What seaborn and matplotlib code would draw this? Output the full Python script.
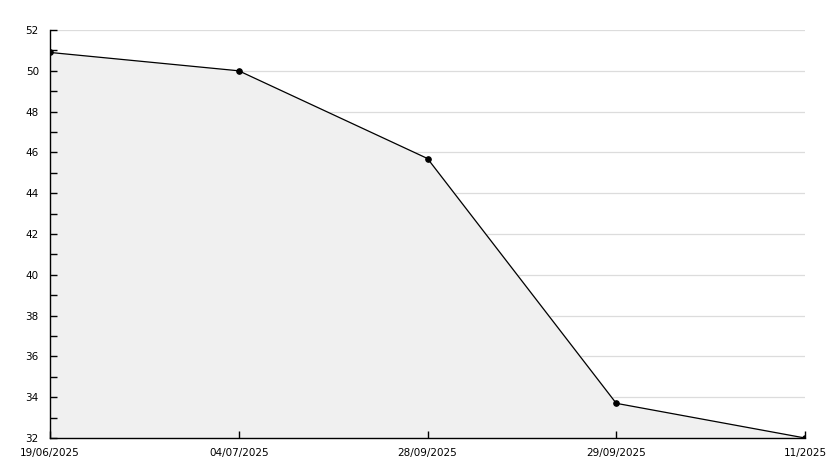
import matplotlib
matplotlib.use("Agg")
import matplotlib.pyplot as plt
from matplotlib.ticker import MultipleLocator
import seaborn as sns
import pandas as pd

# dados
datas = ["19/06/2025", "04/07/2025", "28/09/2025", "29/09/2025", "11/2025"]
valores = [50.9, 50.0, 45.7, 33.7, 32.0]

df = pd.DataFrame({"pos": range(len(datas)), "valor": valores})

sns.set_style("white")
plt.rcParams["font.family"] = ["DejaVu Sans"]

fig = plt.figure(figsize=(8.34, 4.68), dpi=100)
ax = fig.add_axes([50 / 834, 30 / 468, 755 / 834, 408 / 468])

# grade horizontal por baixo da área preenchida
for y in range(34, 53, 2):
    ax.axhline(y, color="#dcdcdc", linewidth=0.9, zorder=0.1)

ax.fill_between(df["pos"], df["valor"], 32, color="#f0f0f0", zorder=0.5)
sns.lineplot(data=df, x="pos", y="valor", color="black", linewidth=0.9,
             marker="o", markersize=4, markeredgecolor="black", ax=ax, zorder=3)

ax.set_xlim(0, len(datas) - 1)
ax.set_ylim(32, 52)
ax.set_xticks(df["pos"])
ax.set_xticklabels(datas)
ax.yaxis.set_major_locator(MultipleLocator(2))
ax.yaxis.set_minor_locator(MultipleLocator(1))
ax.grid(False)
ax.set_axisbelow(False)

for s in ["top", "right"]:
    ax.spines[s].set_visible(False)
for s in ["left", "bottom"]:
    ax.spines[s].set_color("black")
    ax.spines[s].set_linewidth(1)

ax.tick_params(axis="both", which="both", direction="in", colors="black",
               labelsize=7.5, left=True, bottom=True)
ax.tick_params(axis="y", which="major", length=5, width=1, pad=8)
ax.tick_params(axis="y", which="minor", length=5, width=1)
ax.tick_params(axis="x", which="major", length=5, width=1, pad=7)
ax.set_xlabel("")
ax.set_ylabel("")

fig.savefig("out.png", dpi=100, facecolor="white")
